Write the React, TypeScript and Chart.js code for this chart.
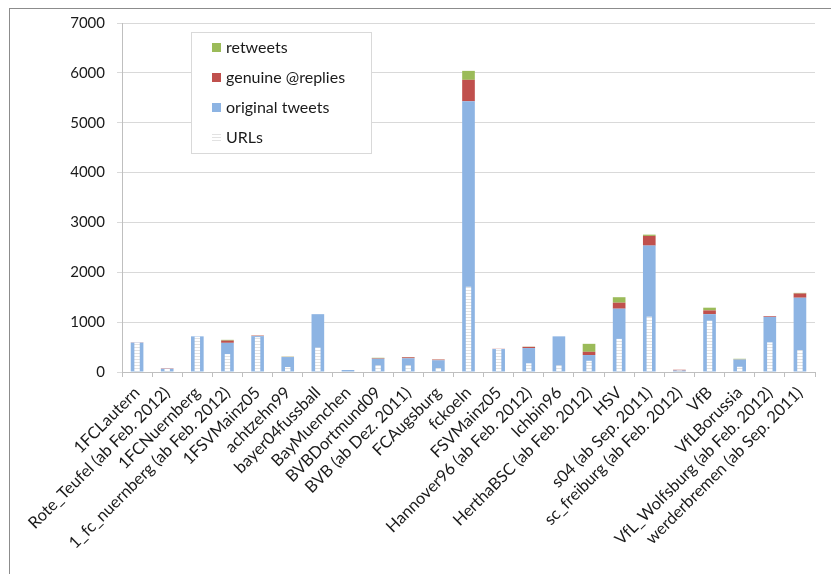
import React, { useEffect, useRef } from "react";
import { Chart, registerables } from "chart.js";

Chart.register(...registerables);

const categories = [
  "1FCLautern",
  "Rote_Teufel (ab Feb. 2012)",
  "1FCNuernberg",
  "1_fc_nuernberg (ab Feb. 2012)",
  "1FSVMainz05",
  "achtzehn99",
  "bayer04fussball",
  "BayMuenchen",
  "BVBDortmund09",
  "BVB (ab Dez. 2011)",
  "FCAugsburg",
  "fckoeln",
  "FSVMainz05",
  "Hannover96 (ab Feb. 2012)",
  "lchbin96",
  "HerthaBSC (ab Feb. 2012)",
  "HSV",
  "s04 (ab Sep. 2011)",
  "sc_freiburg (ab Feb. 2012)",
  "VfB",
  "VfLBorussia",
  "VfL_Wolfsburg (ab Feb. 2012)",
  "werderbremen (ab Sep. 2011)",
];

const originalTweets = [590, 65, 715, 585, 720, 300, 1160, 40, 265, 275, 235, 5430, 460, 480, 715, 340, 1270, 2535, 30, 1160, 250, 1105, 1490];
const genuineReplies = [5, 8, 0, 45, 10, 3, 0, 0, 10, 20, 15, 430, 5, 25, 0, 65, 120, 195, 15, 75, 3, 15, 85];
const retweets = [0, 0, 0, 15, 2, 5, 0, 0, 10, 5, 2, 180, 0, 3, 0, 160, 110, 25, 0, 55, 12, 0, 12];
const urls = [590, 60, 710, 360, 700, 100, 490, 10, 135, 135, 80, 1710, 460, 175, 135, 225, 665, 1110, 30, 1030, 105, 595, 440];

const yMax = 7000;
const yStep = 1000;

const BLUE = "#8db4e3";
const RED = "#c0504d";
const GREEN = "#9bbb59";
const FONT = "Lato, 'Open Sans', sans-serif";

function makeStripe(): CanvasPattern | string {
  const c = document.createElement("canvas");
  c.width = 4;
  c.height = 3;
  const g = c.getContext("2d");
  if (!g) return "#ffffff";
  g.fillStyle = "#ffffff";
  g.fillRect(0, 0, 4, 3);
  g.fillStyle = "#e2e2e2";
  g.fillRect(0, 2, 4, 1);
  const p = g.createPattern(c, "repeat");
  return p || "#ffffff";
}

export default function App() {
  const ref = useRef<HTMLCanvasElement | null>(null);

  useEffect(() => {
    if (!ref.current) return;
    const stripe = makeStripe();

    const legendItems = [
      { label: "retweets", color: GREEN },
      { label: "genuine @replies", color: RED },
      { label: "original tweets", color: BLUE },
      { label: "URLs", color: stripe },
    ];

    const legendPlugin = {
      id: "boxLegend",
      afterDatasetsDraw(chart: any) {
        const ctx = chart.ctx;
        const a = chart.chartArea;
        const x = a.left + 69;
        const y = a.top + 9;
        const w = 180;
        const h = 121;
        ctx.save();
        ctx.fillStyle = "#ffffff";
        ctx.fillRect(x, y, w, h);
        ctx.strokeStyle = "#d9d9d9";
        ctx.lineWidth = 1;
        ctx.strokeRect(x + 0.5, y + 0.5, w, h);
        ctx.font = `16px ${FONT}`;
        ctx.textBaseline = "middle";
        ctx.textAlign = "left";
        legendItems.forEach((it, i) => {
          const cy = y + 16 + i * 30;
          ctx.fillStyle = it.color as any;
          ctx.fillRect(x + 21, cy - 5, 9, 9);
          ctx.fillStyle = "#1a1a1a";
          ctx.fillText(it.label, x + 35, cy);
        });
        ctx.restore();
      },
    };

    const mainBar = { stack: "main", grouped: false, barPercentage: 0.42, categoryPercentage: 1, order: 1 };

    const chart = new Chart(ref.current, {
      type: "bar",
      data: {
        labels: categories,
        datasets: [
          {
            label: "URLs",
            data: urls,
            backgroundColor: stripe as any,
            stack: "urls",
            grouped: false,
            barPercentage: 0.18,
            categoryPercentage: 1,
            order: 0,
          },
          { label: "original tweets", data: originalTweets, backgroundColor: BLUE, ...mainBar },
          { label: "genuine @replies", data: genuineReplies, backgroundColor: RED, ...mainBar },
          { label: "retweets", data: retweets, backgroundColor: GREEN, ...mainBar },
        ],
      },
      options: {
        animation: false,
        responsive: false,
        maintainAspectRatio: false,
        layout: { padding: { left: 0, top: 23, right: 16, bottom: 0 } },
        plugins: {
          legend: { display: false },
          tooltip: { enabled: false },
        },
        scales: {
          x: {
            stacked: true,
            offset: true,
            grid: {
              drawOnChartArea: false,
              drawTicks: true,
              tickLength: 5,
              color: "#bfbfbf",
              offset: true,
            },
            border: { color: "#bfbfbf" },
            ticks: {
              autoSkip: false,
              maxRotation: 45,
              minRotation: 45,
              color: "#1a1a1a",
              font: { family: FONT, size: 16.5 },
              padding: 6,
            },
            afterFit(scale: any) {
              scale.height = 202;
            },
          },
          y: {
            stacked: true,
            min: 0,
            max: yMax,
            grid: { color: "#d9d9d9", tickLength: 5 },
            border: { color: "#bfbfbf" },
            ticks: {
              stepSize: yStep,
              color: "#1a1a1a",
              font: { family: FONT, size: 15 },
              padding: 12,
              callback: (v: any) => String(v),
            },
            afterFit(scale: any) {
              scale.width = 122;
            },
          },
        },
      },
      plugins: [legendPlugin],
    });

    return () => chart.destroy();
  }, []);

  return (
    <div style={{ position: "absolute", left: 0, top: 0, width: 831, height: 574, overflow: "hidden", background: "#fff" }}>
      <div
        style={{
          position: "absolute",
          left: 9,
          top: 8,
          width: 900,
          height: 700,
          borderLeft: "1px solid #8c8c8c",
          borderTop: "1px solid #8c8c8c",
        }}
      />
      <canvas ref={ref} width={831} height={574} style={{ position: "absolute", left: 0, top: 0 }} />
    </div>
  );
}
